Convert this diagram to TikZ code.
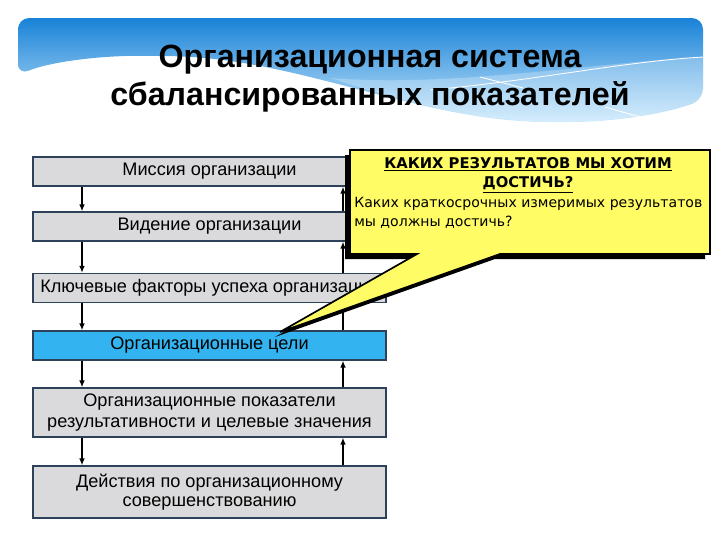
\documentclass[tikz,border=0pt]{standalone}
\usepackage{fontspec}
\setmainfont{Liberation Sans}
\newfontfamily\calloutfont{DejaVu Sans}
\usetikzlibrary{arrows.meta}

\definecolor{boxgray}{RGB}{218,218,220}
\definecolor{boxline}{RGB}{45,65,90}
\definecolor{goalblue}{RGB}{51,180,240}
\definecolor{calloutyellow}{RGB}{255,252,102}
\definecolor{bannertop}{RGB}{25,130,215}
\definecolor{bannermid}{RGB}{75,172,235}
\definecolor{bannerbottom}{RGB}{200,232,252}

\tikzset{
  stage/.style={draw=boxline, line width=0.8pt, fill=boxgray, minimum width=8.825cm,
    minimum height=0.725cm, inner sep=0pt, align=center,
    font=\fontsize{12.9}{15.5}\selectfont},
  flow/.style={-{Latex[length=5pt,width=4pt]}, line width=1.2pt},
}

\begin{document}
\begin{tikzpicture}[x=0.025cm, y=-0.025cm]
   \useasboundingbox (0,0) rectangle (720,540);

   % banner
   \shade[top color=bannertop, middle color=bannermid, bottom color=bannerbottom, rounded corners=8pt]
     (18,75) -- (18,18) -- (703,18) -- (703,100) .. controls (660,115) and (610,122) .. (560,122)
     .. controls (420,122) and (300,58) .. (160,56) .. controls (100,55) and (50,62) .. (18,75) -- cycle;
   \fill[white, opacity=.25] (330,78) .. controls (450,88) and (600,62) .. (703,57) -- (703,100)
     .. controls (660,115) and (610,122) .. (560,122) .. controls (470,122) and (400,100) .. (330,78) -- cycle;
   \draw[white, line width=.6pt] (430,90) .. controls (540,80) and (620,62) .. (703,57);
   \draw[white, line width=.6pt] (480,77) -- (523,88);
   \draw[white, line width=.6pt] (605,107) -- (640,117);

   \node[align=center, font=\fontsize{22.9}{27}\selectfont\bfseries] (title) at (370,79)
     {Организационная система\\сбалансированных показателей};

   % stages
   \node[stage] (mission) at (209.5,171.5) {Миссия организации};
   \node[stage] (vision) at (209.5,226.5) {Видение организации};
   \node[stage] (factors) at (209.5,288) {Ключевые факторы успеха организации};
   \node[stage, fill=goalblue] (goals) at (209.5,345.5) {Организационные цели};
   \node[stage, minimum height=1.225cm] (measures) at (209.5,412.5)
     {Организационные показатели\\результативности и целевые значения};
   \node[stage, minimum height=1.3cm, font=\fontsize{12.9}{13.8}\selectfont] (actions) at (209.5,492)
     {Действия по организационному\\совершенствованию};

   \coordinate (down) at (82,0);
   \coordinate (up) at (343,0);
   \draw[flow] (mission.south -| down) -- (vision.north -| down);
   \draw[flow] (vision.south -| down) -- (factors.north -| down);
   \draw[flow] (factors.south -| down) -- (goals.north -| down);
   \draw[flow] (goals.south -| down) -- (measures.north -| down);
   \draw[flow] (measures.south -| down) -- (actions.north -| down);

   \draw[flow] (vision.north -| up) -- (mission.south -| up);
   \draw[flow] (factors.north -| up) -- (vision.south -| up);
   \draw[flow] (goals.north -| up) -- (factors.south -| up);
   \draw[flow] (measures.north -| up) -- (goals.south -| up);
   \draw[flow] (actions.north -| up) -- (measures.south -| up);

   % callout
   \fill[black, shift={(-5,5)}] (350,150) -- (710,150) -- (710,254) -- (500,254) -- (280,332)
     -- (417,254) -- (350,254) -- cycle;
   \draw[fill=calloutyellow, line width=1.2pt] (350,150) -- (710,150) -- (710,254) -- (500,254)
     -- (280,332) -- (417,254) -- (350,254) -- cycle;

   \node[align=center, font=\calloutfont\bfseries\fontsize{10.5}{14}\selectfont] (question) at (528,175)
     {\underline{КАКИХ РЕЗУЛЬТАТОВ МЫ ХОТИМ}\\\underline{ДОСТИЧЬ?}};
   \node[anchor=north west, align=left, inner sep=0pt, font=\calloutfont\fontsize{10}{13.5}\selectfont]
     (detail) at (354,197) {Каких краткосрочных измеримых результатов\\мы должны достичь?};
 \end{tikzpicture}
\end{document}
